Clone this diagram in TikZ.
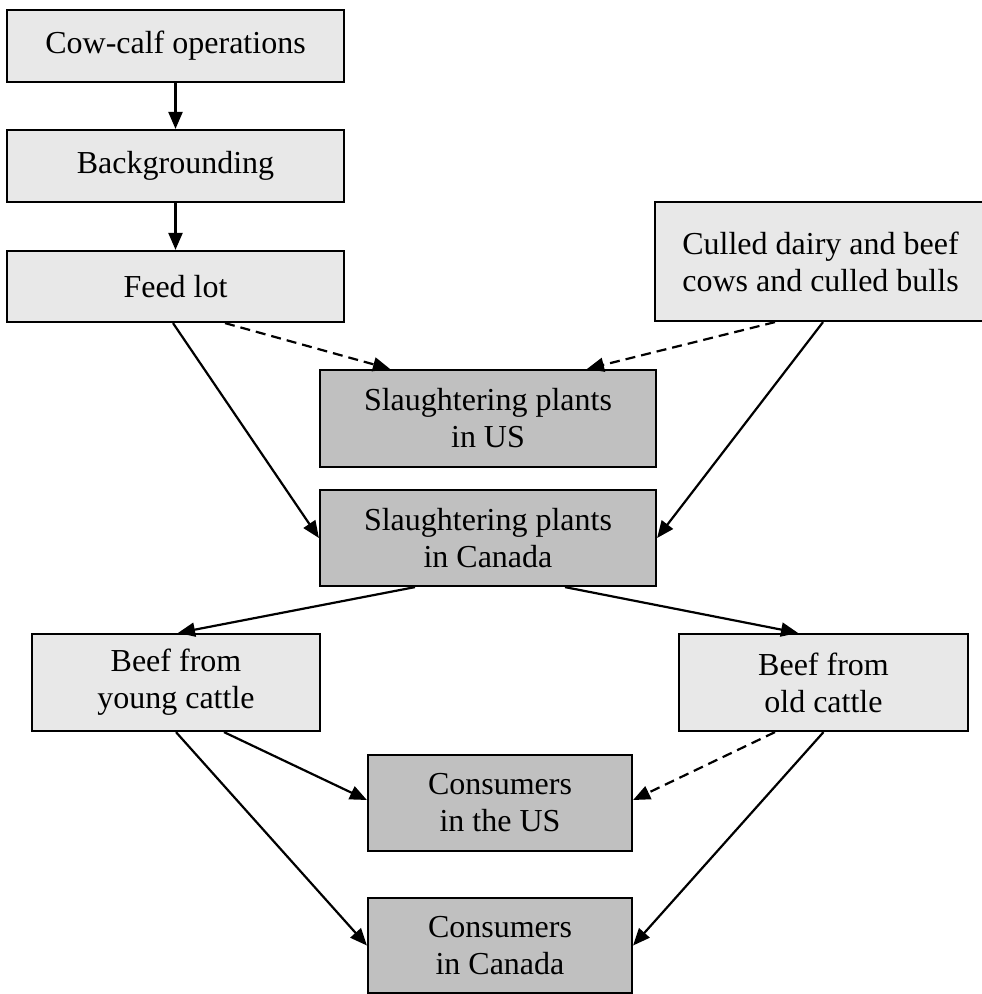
\documentclass[tikz,border=0pt]{standalone}
\usepackage{fontspec}
\setmainfont{Liberation Serif}
\usetikzlibrary{arrows.meta}
\definecolor{lightbox}{HTML}{E8E8E8}
\definecolor{darkbox}{HTML}{C0C0C0}
\begin{document}
\begin{tikzpicture}[x=1pt,y=-1pt,
  box/.style={draw=black, line width=2.2pt, align=center, inner sep=0pt,
    font=\fontsize{32}{37}\selectfont},
  lbox/.style={box, fill=lightbox},
  dbox/.style={box, fill=darkbox},
  conn/.style={line width=2.2pt, -{Triangle[length=17pt,width=14pt]}},
  dconn/.style={conn, dash pattern=on 10pt off 6pt}]
\useasboundingbox (0,0) rectangle (982,994);
\clip (0,0) rectangle (982,994);
\node[lbox, minimum width=337pt, minimum height=72pt] (cow) at (175.5,46) {Cow-calf operations};
\node[lbox, minimum width=337pt, minimum height=72pt] (bg) at (175.5,166) {Backgrounding};
\node[lbox, minimum width=337pt, minimum height=71pt] (feed) at (175.5,286.5) {Feed lot};
\node[lbox, minimum width=331pt, minimum height=119pt] (culled) at (820.5,261.5) {Culled dairy and beef\\cows and culled bulls};
\node[dbox, minimum width=336pt, minimum height=97pt] (slus) at (488,418.5) {Slaughtering plants\\in US};
\node[dbox, minimum width=336pt, minimum height=96pt] (slca) at (488,538) {Slaughtering plants\\in Canada};
\node[lbox, minimum width=288pt, minimum height=97pt] (young) at (176,682.5) {Beef from\\young cattle};
\node[lbox, minimum width=289pt, minimum height=97pt] (old) at (823.5,682.5) {Beef from\\old cattle};
\node[dbox, minimum width=264pt, minimum height=96pt] (conus) at (500,803) {Consumers\\in the US};
\node[dbox, minimum width=264pt, minimum height=95pt] (conca) at (500,945.5) {Consumers\\in Canada};

\draw[conn] (cow.south) -- (bg.north);
\draw[conn] (bg.south) -- (feed.north);
\draw[dconn] ([xshift=49.5pt]feed.south) -- ([xshift=-98pt]slus.north);
\draw[dconn] ([xshift=-45.5pt]culled.south) -- ([xshift=99pt]slus.north);
\draw[conn] ([xshift=-2.5pt]feed.south) -- (slca.west);
\draw[conn] ([xshift=2.5pt]culled.south) -- (slca.east);
\draw[conn] ([xshift=-73pt]slca.south) -- ([xshift=2pt]young.north);
\draw[conn] ([xshift=77pt]slca.south) -- ([xshift=-25.5pt]old.north);
\draw[conn] ([xshift=48pt]young.south) -- ([yshift=3pt]conus.west);
\draw[conn] (young.south) -- (conca.west);
\draw[dconn] ([xshift=-48.5pt]old.south) -- ([yshift=3pt]conus.east);
\draw[conn] (old.south) -- (conca.east);
\end{tikzpicture}
\end{document}
